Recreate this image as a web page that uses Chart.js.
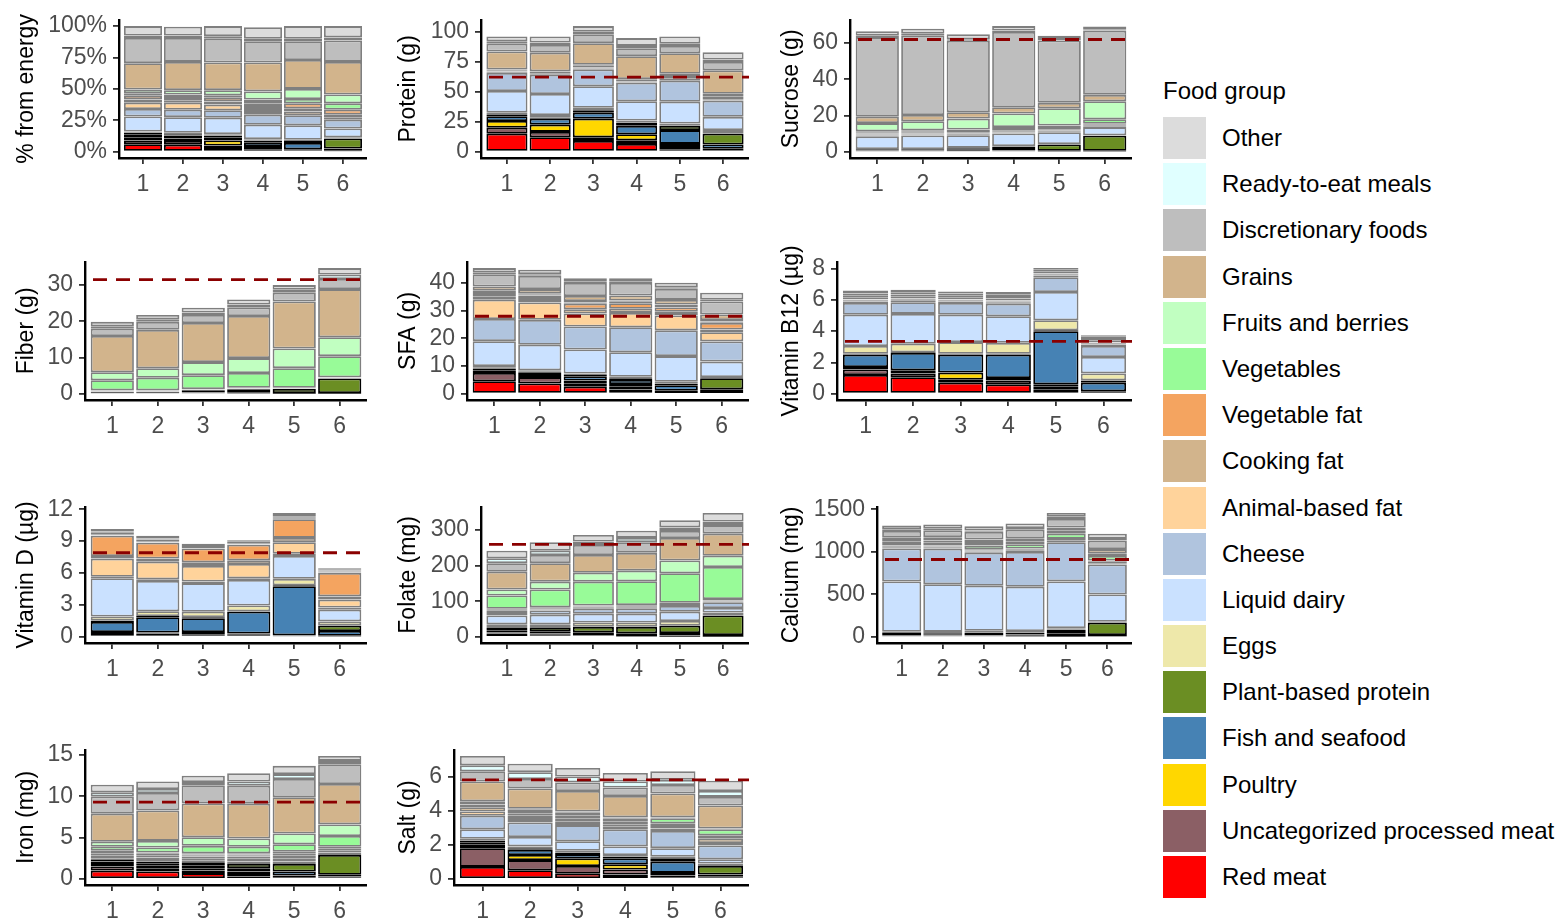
<!DOCTYPE html>
<html>
<head>
<meta charset="utf-8">
<title>Nutrient intake by food group</title>
<script src="https://cdn.jsdelivr.net/npm/chart.js@4.4.1/dist/chart.umd.min.js"></script>
<style>
  html, body { margin: 0; padding: 0; background: #ffffff; }
  body { width: 1559px; height: 920px; position: relative; overflow: hidden;
         font-family: "Liberation Sans", Arial, sans-serif; }
  .panel { position: absolute; }
  #legend { position: absolute; left: 0; top: 0; }
  .lg-title { position: absolute; left: 1163px; font-size: 24px; color: #000; white-space: nowrap; }
  .lg-key { position: absolute; left: 1163px; width: 43px; height: 42px; }
  .lg-text { position: absolute; left: 1222px; font-size: 24px; color: #000; white-space: nowrap; line-height: 42px; }
</style>
</head>
<body>
<div id="legend"></div>
<script>
// Food groups in stacking order (bottom of each bar first)
const foodGroups = [
  'Red meat', 'Uncategorized processed meat', 'Poultry', 'Fish and seafood',
  'Plant-based protein', 'Eggs', 'Liquid dairy', 'Cheese', 'Animal-based fat',
  'Cooking fat', 'Vegetable fat', 'Vegetables', 'Fruits and berries', 'Grains',
  'Discretionary foods', 'Ready-to-eat meals', 'Other'
];
const groupColors = [
  '#FF0000', '#8B5F65', '#FFD700', '#4682B4', '#6B8E23', '#EEE8AA', '#CAE1FF',
  '#B0C4DE', '#FFD39B', '#D2B48C', '#F4A460', '#98FB98', '#C1FFC1', '#D2B48C',
  '#BEBEBE', '#E0FFFF', '#DCDCDC'
];
// protein sources are outlined in black, everything else in grey
const outlineColors = groupColors.map((c, i) => (i <= 4 ? '#000000' : '#7F7F7F'));

const clusters = [1, 2, 3, 4, 5, 6];
const clusterLabels = ['1', '2', '3', '4', '5', '6'];

// One row per cluster, one value per food group (same order as foodGroups)
const energyShare = [
  [6, 3, 2.5, 2.5, 1, 1, 12, 6, 5, 2.5, 3, 2, 3, 21, 20, 2, 7.5],
  [5.5, 3, 2, 2.5, 1, 1, 12.5, 6, 5.5, 2, 2.5, 2, 3.5, 22.5, 19, 2, 7],
  [3, 2, 4, 2.5, 1.5, 1, 13, 6, 4.5, 2.5, 3, 2, 4, 22, 19, 2, 8],
  [1.5, 1.5, 1.5, 3, 1.5, 1, 11.5, 8, 3, 3, 3, 3, 6.5, 23, 17, 2, 9],
  [0.5, 0.5, 1, 5, 1.5, 1, 11.5, 8, 3, 2.5, 4, 3.5, 8, 23, 15, 2, 10],
  [0.3, 0.3, 0.6, 1.3, 8, 1, 7, 7, 2, 2, 4, 5, 7, 26, 17, 2.5, 9]
];
const proteinG = [
  [15, 5, 5.5, 4, 1, 2, 18, 15, 0.7, 0.5, 0.3, 0.8, 0.5, 15, 6.5, 2, 4],
  [12, 4.5, 6, 5, 1, 2, 17.5, 16, 0.7, 0.5, 0.3, 0.8, 0.5, 15.5, 6.5, 2, 5],
  [9, 3, 15.5, 5, 2, 2, 18, 14, 0.7, 0.5, 0.3, 1.5, 0.8, 18, 7.5, 2, 4.7],
  [6.5, 3, 5, 7, 2.5, 2, 16, 15.5, 0.5, 0.5, 0.3, 1, 0.7, 19, 6.5, 2, 6.5],
  [2, 2, 2.5, 11.5, 3.5, 2, 18, 17.5, 0.7, 1, 0.7, 1.5, 2, 17, 6, 2, 6],
  [0.5, 0.5, 1.5, 3.5, 9, 3, 11, 13.5, 0.7, 1.5, 1.5, 1, 1, 19.5, 7, 2, 6]
];
const sucroseG = [
  [0.2, 0.2, 0.2, 0.2, 0.5, 0.2, 7, 0.5, 0.5, 0.5, 0.5, 0.8, 4.5, 3.5, 44, 0.8, 2.5],
  [0.2, 0.2, 0.2, 0.2, 0.5, 0.2, 7.5, 0.5, 0.5, 0.5, 0.5, 0.8, 5, 3.5, 44, 0.8, 2.8],
  [0.3, 0.3, 0.3, 0.2, 0.8, 0.2, 7, 0.5, 0.4, 0.4, 0.4, 1.5, 6, 3.5, 39.5, 0.8, 2.8],
  [0.2, 0.2, 0.2, 0.2, 2, 0.3, 7, 0.5, 0.4, 0.4, 0.4, 1.8, 7.5, 3.5, 41.5, 0.8, 2.5],
  [0.1, 0.1, 0.1, 0.2, 3.5, 0.3, 6.5, 0.5, 0.4, 0.4, 0.4, 2, 9.5, 3, 34.5, 0.8, 1.7],
  [0.1, 0.1, 0.1, 0.2, 8.3, 0.3, 4.5, 0.5, 0.3, 0.5, 0.5, 2.5, 10, 3.5, 35.5, 0.8, 1.5]
];
const fiberG = [
  [0.1, 0.05, 0.05, 0.05, 0.3, 0.05, 0.1, 0.05, 0.02, 0.05, 0.1, 2.8, 2.2, 10, 2, 0.7, 1.2],
  [0.1, 0.05, 0.05, 0.05, 0.3, 0.05, 0.1, 0.05, 0.02, 0.05, 0.1, 3.5, 2.6, 10.6, 2.2, 0.7, 1.2],
  [0.1, 0.05, 0.1, 0.1, 0.6, 0.05, 0.1, 0.05, 0.02, 0.05, 0.1, 3.8, 3.6, 10.8, 2.2, 0.7, 1.3],
  [0.05, 0.05, 0.05, 0.1, 1.0, 0.05, 0.1, 0.05, 0.02, 0.05, 0.1, 4.1, 4.1, 11.6, 2.4, 0.8, 1.4],
  [0.02, 0.02, 0.05, 0.1, 1.1, 0.05, 0.1, 0.05, 0.02, 0.05, 0.1, 5.4, 5.4, 13, 2.4, 0.8, 1.3],
  [0.02, 0.02, 0.05, 0.1, 4.0, 0.05, 0.1, 0.05, 0.02, 0.05, 0.1, 5.8, 5.2, 13.3, 2.8, 1.2, 1.8]
];
const sfaG = [
  [4.5, 3, 0.8, 0.8, 0.4, 0.5, 9, 8, 7, 1.2, 1.2, 0.4, 0.4, 1.5, 4.5, 0.7, 1.5],
  [3.7, 2.3, 0.8, 0.8, 0.4, 0.5, 9.2, 9, 6.3, 1.2, 1.3, 0.4, 0.4, 1.5, 4.8, 0.6, 1.6],
  [2.5, 1.3, 1, 1.5, 0.5, 0.5, 8.7, 8.3, 4.7, 1.5, 2, 0.5, 0.5, 1.8, 4.7, 0.5, 1.2],
  [1.5, 1.2, 0.8, 1.5, 0.6, 0.5, 8.9, 9, 5.2, 1.5, 2, 0.5, 0.5, 1.8, 4.5, 0.5, 1.2],
  [0.3, 0.3, 0.5, 2, 0.6, 0.6, 9.3, 9.3, 5.4, 1.3, 1.6, 0.5, 0.5, 1.7, 4, 0.6, 1.6],
  [0.3, 0.3, 0.4, 0.6, 4, 0.4, 5.6, 7.3, 3.3, 1, 2.4, 0.5, 0.5, 2, 4.7, 0.7, 2.5]
];
const vitaminB12Ug = [
  [1.2, 0.35, 0.15, 0.8, 0.05, 0.5, 2, 0.75, 0.1, 0.05, 0.05, 0.02, 0.02, 0.1, 0.15, 0.12, 0.18],
  [1.05, 0.25, 0.2, 1.1, 0.05, 0.55, 1.9, 0.75, 0.1, 0.05, 0.05, 0.02, 0.02, 0.1, 0.15, 0.12, 0.18],
  [0.7, 0.2, 0.45, 1.15, 0.05, 0.75, 1.75, 0.75, 0.1, 0.05, 0.05, 0.02, 0.02, 0.1, 0.15, 0.12, 0.13],
  [0.6, 0.25, 0.15, 1.5, 0.05, 0.7, 1.7, 0.8, 0.1, 0.05, 0.05, 0.02, 0.02, 0.1, 0.15, 0.12, 0.14],
  [0.25, 0.2, 0.15, 3.4, 0.05, 0.65, 1.8, 0.95, 0.1, 0.05, 0.05, 0.02, 0.02, 0.1, 0.12, 0.04, 0.08],
  [0.05, 0.05, 0.05, 0.55, 0.15, 0.45, 1.05, 0.7, 0.1, 0.05, 0.05, 0.02, 0.02, 0.12, 0.15, 0.08, 0.1]
];
const vitaminDUg = [
  [0.15, 0.2, 0.1, 0.95, 0.1, 0.4, 3.6, 0.15, 1.7, 0.25, 1.9, 0.02, 0.02, 0.1, 0.15, 0.1, 0.25],
  [0.15, 0.15, 0.1, 1.45, 0.1, 0.45, 2.85, 0.15, 1.65, 0.3, 1.5, 0.02, 0.02, 0.1, 0.15, 0.1, 0.25],
  [0.1, 0.1, 0.25, 1.3, 0.1, 0.5, 2.7, 0.15, 1.45, 0.35, 1.3, 0.02, 0.02, 0.1, 0.1, 0.1, 0.1],
  [0.1, 0.1, 0.1, 2.05, 0.05, 0.55, 2.4, 0.15, 1.35, 0.35, 1.45, 0.02, 0.02, 0.1, 0.15, 0.1, 0.05],
  [0.05, 0.05, 0.05, 4.6, 0.1, 0.6, 2.15, 0.2, 1.1, 0.4, 1.75, 0.02, 0.02, 0.1, 0.15, 0.1, 0.2],
  [0.03, 0.03, 0.04, 0.45, 0.5, 0.4, 1.1, 0.2, 0.75, 0.3, 2.2, 0.02, 0.02, 0.1, 0.1, 0.1, 0.1]
];
const folateMg = [
  [5, 4, 3, 5, 8, 10, 25, 10, 3, 3, 3, 37, 17, 50, 24, 14, 21],
  [3, 3, 3, 5, 11, 10, 27, 12, 3, 3, 3, 50, 22, 52, 23, 12, 24],
  [2, 2, 4, 5, 15, 12, 25, 14, 3, 3, 3, 67, 25, 50, 28, 10, 18],
  [1, 1.5, 2.5, 5, 18, 12, 25, 15, 3, 3, 3, 67, 30, 50, 30, 12, 20],
  [0.5, 1, 2, 7, 21, 13, 26, 16, 3, 3, 3, 83, 36, 63, 20, 10, 20],
  [0.5, 0.5, 1, 3, 55, 8, 13, 16, 2, 3, 4, 90, 32, 62, 24, 10, 24]
];
const calciumMg = [
  [8, 8, 5, 12, 12, 15, 590, 390, 15, 10, 10, 30, 20, 40, 80, 20, 45],
  [7, 7, 5, 12, 12, 15, 560, 420, 15, 10, 10, 40, 20, 40, 80, 20, 50],
  [6, 6, 6, 14, 18, 20, 530, 390, 15, 10, 15, 45, 30, 40, 90, 15, 50],
  [4, 4, 5, 14, 22, 20, 520, 410, 15, 10, 15, 50, 30, 40, 100, 20, 55],
  [2, 2, 3, 30, 45, 20, 550, 460, 15, 10, 15, 60, 35, 40, 100, 25, 45],
  [3, 3, 4, 10, 145, 12, 320, 355, 15, 15, 15, 55, 30, 50, 100, 20, 60]
];
const ironMg = [
  [1.0, 0.5, 0.3, 0.3, 0.2, 0.2, 0.3, 0.2, 0.1, 0.15, 0.15, 0.5, 0.6, 3.4, 2.1, 0.5, 0.9],
  [0.9, 0.4, 0.3, 0.3, 0.2, 0.2, 0.3, 0.2, 0.1, 0.15, 0.15, 0.6, 0.8, 3.7, 2.1, 0.5, 0.9],
  [0.7, 0.3, 0.3, 0.3, 0.4, 0.2, 0.3, 0.2, 0.1, 0.15, 0.15, 0.9, 1.05, 4.1, 2.2, 0.4, 0.75],
  [0.3, 0.3, 0.3, 0.4, 0.5, 0.3, 0.4, 0.2, 0.1, 0.15, 0.15, 0.8, 1.0, 4.2, 2.2, 0.5, 1.0],
  [0.1, 0.1, 0.2, 0.5, 0.9, 0.3, 0.4, 0.3, 0.1, 0.2, 0.2, 0.9, 1.3, 4.4, 2.2, 0.6, 1.0],
  [0.1, 0.1, 0.1, 0.2, 2.4, 0.1, 0.2, 0.2, 0.1, 0.2, 0.2, 1.3, 1.4, 4.9, 2.4, 0.4, 0.6]
];
const saltG = [
  [0.7, 1.1, 0.2, 0.15, 0.1, 0.1, 0.55, 0.8, 0.25, 0.25, 0.15, 0.15, 0.05, 1.15, 0.6, 0.35, 0.55],
  [0.5, 0.6, 0.3, 0.3, 0.1, 0.1, 0.55, 0.85, 0.2, 0.2, 0.15, 0.2, 0.05, 1.2, 0.55, 0.4, 0.5],
  [0.3, 0.45, 0.45, 0.25, 0.1, 0.1, 0.55, 0.95, 0.2, 0.2, 0.15, 0.2, 0.05, 1.2, 0.5, 0.35, 0.5],
  [0.25, 0.3, 0.3, 0.35, 0.1, 0.1, 0.5, 1.0, 0.15, 0.15, 0.15, 0.2, 0.05, 1.25, 0.5, 0.35, 0.5],
  [0.1, 0.1, 0.15, 0.65, 0.2, 0.1, 0.5, 1.0, 0.15, 0.2, 0.1, 0.3, 0.05, 1.4, 0.5, 0.3, 0.5],
  [0.05, 0.05, 0.05, 0.1, 0.5, 0.15, 0.25, 0.8, 0.15, 0.25, 0.2, 0.35, 0.05, 1.35, 0.5, 0.35, 0.6]
];

// Recommended intake levels (dashed lines)
const proteinRef = 62, sucroseRef = 62, fiberRef = 31.5, sfaRef = 28, vitaminB12Ref = 3.35,
      vitaminDRef = 7.9, folateRef = 260, calciumRef = 910, ironRef = 9.3, saltRef = 5.8;

// Axis ticks
const energyTicks = [0, 25, 50, 75, 100];
const energyTickLabels = ['0%', '25%', '50%', '75%', '100%'];
const proteinTicks = [0, 25, 50, 75, 100];
const sucroseTicks = [0, 20, 40, 60];
const fiberTicks = [0, 10, 20, 30];
const sfaTicks = [0, 10, 20, 30, 40];
const vitaminB12Ticks = [0, 2, 4, 6, 8];
const vitaminDTicks = [0, 3, 6, 9, 12];
const folateTicks = [0, 100, 200, 300];
const calciumTicks = [0, 500, 1000, 1500];
const ironTicks = [0, 5, 10, 15];
const saltTicks = [0, 2, 4, 6];

const FONT = '"Liberation Sans", Arial, sans-serif';
Chart.defaults.font.family = FONT;

// Grid of panels: column / row and the left edge of each plotting area
const colLeft = [13, 395, 778];
const colRight = [367, 749, 1132];
const rowTop = [16, 258, 503, 746];
const rowBottom = [158, 400, 643, 885];
const TOP_PAD = 16;
const X_AXIS_H = 46;

const panels = [
  { title: '% from energy', rows: energyShare, ticks: energyTicks, labels: energyTickLabels, ref: null, col: 0, row: 0, plotLeft: 119 },
  { title: 'Protein (g)', rows: proteinG, ticks: proteinTicks, ref: proteinRef, col: 1, row: 0, plotLeft: 481 },
  { title: 'Sucrose (g)', rows: sucroseG, ticks: sucroseTicks, ref: sucroseRef, col: 2, row: 0, plotLeft: 850 },
  { title: 'Fiber (g)', rows: fiberG, ticks: fiberTicks, ref: fiberRef, col: 0, row: 1, plotLeft: 85 },
  { title: 'SFA (g)', rows: sfaG, ticks: sfaTicks, ref: sfaRef, col: 1, row: 1, plotLeft: 467 },
  { title: 'Vitamin B12 (µg)', rows: vitaminB12Ug, ticks: vitaminB12Ticks, ref: vitaminB12Ref, col: 2, row: 1, plotLeft: 837 },
  { title: 'Vitamin D (µg)', rows: vitaminDUg, ticks: vitaminDTicks, ref: vitaminDRef, col: 0, row: 2, plotLeft: 85 },
  { title: 'Folate (mg)', rows: folateMg, ticks: folateTicks, ref: folateRef, col: 1, row: 2, plotLeft: 481 },
  { title: 'Calcium (mg)', rows: calciumMg, ticks: calciumTicks, ref: calciumRef, col: 2, row: 2, plotLeft: 877 },
  { title: 'Iron (mg)', rows: ironMg, ticks: ironTicks, ref: ironRef, col: 0, row: 3, plotLeft: 85 },
  { title: 'Salt (g)', rows: saltG, ticks: saltTicks, ref: saltRef, col: 1, row: 3, plotLeft: 454 }
];

// Dashed horizontal reference line across the plotting area
const refLinePlugin = {
  id: 'refLine',
  afterDatasetsDraw(chart, args, opts) {
    if (opts.value === null || opts.value === undefined) return;
    const y = chart.scales.y.getPixelForValue(opts.value);
    const { left, right } = chart.chartArea;
    const ctx = chart.ctx;
    ctx.save();
    ctx.strokeStyle = '#8B0000';
    ctx.lineWidth = 2.8;
    ctx.setLineDash([14, 9]);
    ctx.lineDashOffset = -8;
    ctx.beginPath();
    ctx.moveTo(left, y);
    ctx.lineTo(right + 2, y);
    ctx.stroke();
    ctx.restore();
  }
};

const tickGrid = { display: true, drawOnChartArea: false, drawTicks: true, tickLength: 6, color: '#333333', lineWidth: 1.8, offset: false };
const axisBorder = { display: true, color: '#000000', width: 2.4 };

panels.forEach((p) => {
  const left = colLeft[p.col];
  const top = rowTop[p.row] - TOP_PAD;
  const width = colRight[p.col] - left;
  const height = rowBottom[p.row] - rowTop[p.row] + TOP_PAD + X_AXIS_H;

  const box = document.createElement('div');
  box.className = 'panel';
  box.style.left = left + 'px';
  box.style.top = top + 'px';
  box.style.width = width + 'px';
  box.style.height = height + 'px';
  const canvas = document.createElement('canvas');
  box.appendChild(canvas);
  document.body.appendChild(box);

  // stacked totals set the value range (with the usual 5% expansion)
  const totals = p.rows.map(r => r.reduce((a, b) => a + b, 0));
  let upper = Math.max(...totals);
  if (p.ref !== null) upper = Math.max(upper, p.ref);
  const yMin = -0.05 * upper;
  const yMax = 1.05 * upper;
  const tickText = p.labels || p.ticks.map(String);

  const datasets = foodGroups.map((name, g) => ({
    label: name,
    data: clusters.map((c, i) => ({ x: c, y: p.rows[i][g] })),
    backgroundColor: groupColors[g],
    borderColor: outlineColors[g],
    borderWidth: 1.8,
    borderSkipped: false,
    inflateAmount: 0,
    barPercentage: 0.95,
    categoryPercentage: 1
  }));

  new Chart(canvas, {
    type: 'bar',
    data: { datasets },
    options: {
      responsive: true,
      maintainAspectRatio: false,
      animation: false,
      devicePixelRatio: 1,
      events: [],
      layout: { padding: { top: TOP_PAD, right: 0, bottom: 0, left: 0 } },
      plugins: {
        legend: { display: false },
        tooltip: { enabled: false },
        refLine: { value: p.ref }
      },
      scales: {
        x: {
          type: 'linear',
          stacked: true,
          offset: false,
          min: 0.4,
          max: 6.6,
          afterBuildTicks: s => { s.ticks = clusters.map(v => ({ value: v })); },
          afterFit: s => { s.height = X_AXIS_H; },
          ticks: {
            autoSkip: false, maxRotation: 0, padding: 7, color: '#4D4D4D',
            font: { size: 23 },
            callback: (v, i) => clusterLabels[i]
          },
          grid: tickGrid,
          border: axisBorder
        },
        y: {
          type: 'linear',
          stacked: true,
          min: yMin,
          max: yMax,
          afterBuildTicks: s => { s.ticks = p.ticks.map(v => ({ value: v })); },
          afterFit: s => { s.width = p.plotLeft - left; },
          ticks: {
            padding: 6, color: '#4D4D4D', font: { size: 23 },
            callback: (v, i) => tickText[i]
          },
          grid: tickGrid,
          border: axisBorder,
          title: { display: true, text: p.title, color: '#000000', font: { size: 23 }, padding: 0 }
        }
      }
    },
    plugins: [refLinePlugin]
  });
});

// Legend: food groups listed top to bottom in reverse stacking order
const legend = document.getElementById('legend');
const lgTitle = document.createElement('div');
lgTitle.className = 'lg-title';
lgTitle.style.top = '77px';
lgTitle.textContent = 'Food group';
legend.appendChild(lgTitle);
for (let k = 0; k < foodGroups.length; k++) {
  const g = foodGroups.length - 1 - k;
  const y = 117 + k * 46.19;
  const key = document.createElement('div');
  key.className = 'lg-key';
  key.style.top = y + 'px';
  key.style.background = groupColors[g];
  legend.appendChild(key);
  const txt = document.createElement('div');
  txt.className = 'lg-text';
  txt.style.top = y + 'px';
  txt.textContent = foodGroups[g];
  legend.appendChild(txt);
}
</script>
</body>
</html>
